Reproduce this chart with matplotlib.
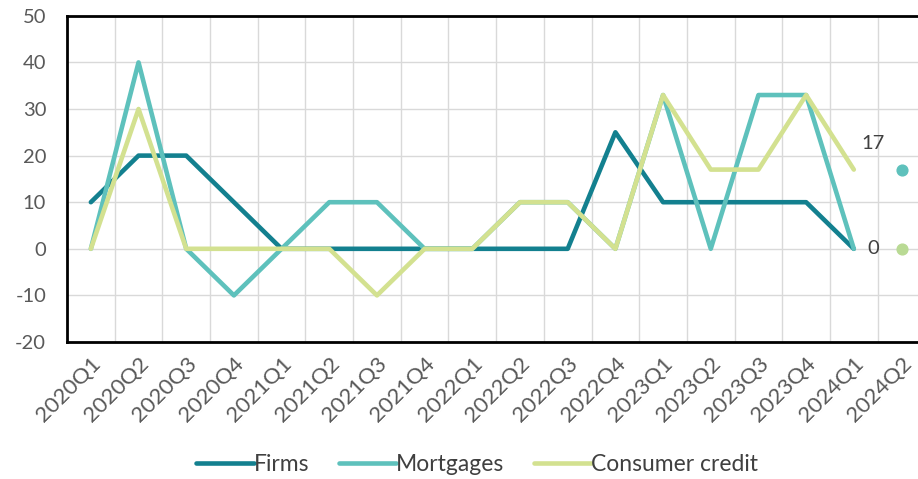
import matplotlib.pyplot as plt
import numpy as np

plt.rcParams['font.family'] = ['Lato', 'DejaVu Sans']
plt.rcParams['axes.unicode_minus'] = False

quarters = ["2020Q1", "2020Q2", "2020Q3", "2020Q4",
            "2021Q1", "2021Q2", "2021Q3", "2021Q4",
            "2022Q1", "2022Q2", "2022Q3", "2022Q4",
            "2023Q1", "2023Q2", "2023Q3", "2023Q4",
            "2024Q1", "2024Q2"]

firms = [10, 20, 20, 10, 0, 0, 0, 0, 0, 0, 0, 25, 10, 10, 10, 10, 0]
mortgages = [0, 40, 0, -10, 0, 10, 10, 0, 0, 10, 10, 0, 33, 0, 33, 33, 0]
consumer = [0, 30, 0, 0, 0, 0, -10, 0, 0, 10, 10, 0, 33, 17, 17, 33, 17]

# expectations for 2024Q2
exp_mortgages = 17
exp_consumer = 0

c_firms = "#13808f"
c_mort = "#5ec1bc"
c_cons = "#d3e190"
c_dot_cons = "#b9da94"

fig = plt.figure(figsize=(9.18, 4.79), dpi=100)
ax = fig.add_axes([0.073, 0.286, 0.935, 0.681])

x = np.arange(len(firms))
ax.plot(x, firms, color=c_firms, lw=3.3, label="Firms", solid_capstyle="round")
ax.plot(x, mortgages, color=c_mort, lw=3.3, label="Mortgages", solid_capstyle="round")
ax.plot(x, consumer, color=c_cons, lw=3.3, label="Consumer credit", solid_capstyle="round")

ax.scatter([17], [exp_mortgages], s=60, color=c_mort, zorder=4)
ax.scatter([17], [exp_consumer], s=60, color=c_dot_cons, zorder=4)
ax.text(16.4, 22.7, "17", fontsize=14.5, color="#404040", ha="center", va="center")
ax.text(16.4, 0, "0", fontsize=14.5, color="#404040", ha="center", va="center")

ax.set_xlim(-0.5, 17.5)
ax.set_ylim(-20, 50)
ax.set_yticks(range(-20, 51, 10))
ax.set_xticks(np.arange(len(quarters)))
ax.set_xticklabels(quarters, rotation=45, ha="right", rotation_mode="anchor")
ax.set_xticks(np.arange(len(quarters)) + 0.5, minor=True)

ax.tick_params(axis="both", which="both", length=0, colors="#595959")
ax.tick_params(axis="y", labelsize=14.5, pad=15)
ax.tick_params(axis="x", labelsize=16, pad=8)

ax.grid(True, axis="y", which="major", color="#d9d9d9", lw=1)
ax.grid(True, axis="x", which="minor", color="#d9d9d9", lw=1)
ax.set_axisbelow(True)

for s in ["left", "top", "bottom"]:
    ax.spines[s].set_linewidth(2)
    ax.spines[s].set_color("black")
ax.spines["right"].set_visible(False)

fig.legend(loc="center", bbox_to_anchor=(0.52, 0.03), ncol=3, frameon=False,
           fontsize=16.5, handlelength=2.5, handletextpad=0.0, columnspacing=1.3,
           labelcolor="#404040")

fig.savefig("out.png", dpi=100)
